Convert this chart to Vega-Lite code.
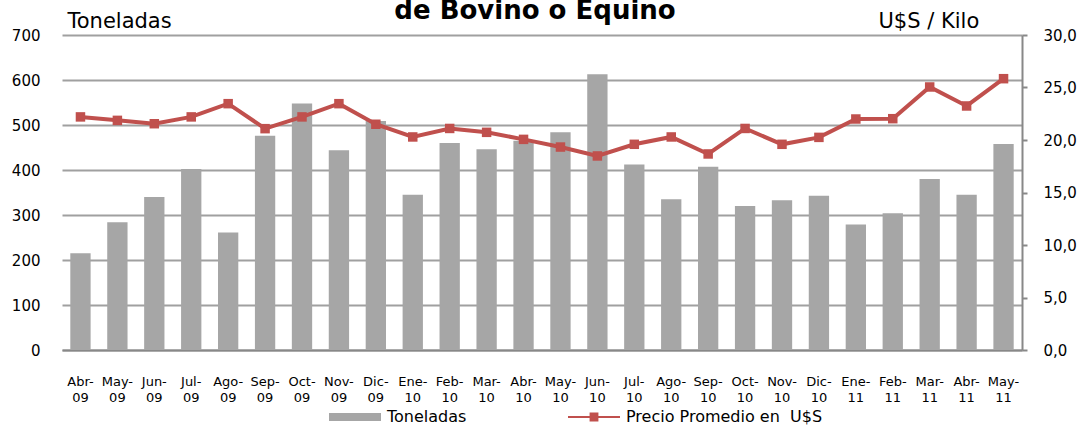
{
  "$schema": "https://vega.github.io/schema/vega-lite/v6.json",
  "width": 960,
  "height": 315,
  "autosize": {"type": "none"},
  "padding": {"left": 62, "top": 35, "right": 63, "bottom": 80},
  "background": "white",
  "title": {"text": "de Bovino o Equino", "font": "DejaVu Sans", "fontSize": 26, "fontWeight": "bold", "color": "#000000", "anchor": "middle", "frame": "group", "baseline": "alphabetic", "offset": 16, "dy": 51, "dx": -7},
  "config": {
    "view": {"stroke": null},
    "font": "DejaVu Sans",
    "axis": {"labelColor": "#000000", "titleColor": "#000000", "labelFont": "DejaVu Sans", "titleFont": "DejaVu Sans"},
    "legend": {"labelFont": "DejaVu Sans", "labelColor": "#000000", "labelLimit": 400}
  },
  "data": {
    "values": [
      {"mes": "Abr-09", "toneladas": 215, "precio": 22.2},
      {"mes": "May-09", "toneladas": 284, "precio": 21.87},
      {"mes": "Jun-09", "toneladas": 340, "precio": 21.55},
      {"mes": "Jul-09", "toneladas": 402, "precio": 22.2},
      {"mes": "Ago-09", "toneladas": 261, "precio": 23.46},
      {"mes": "Sep-09", "toneladas": 476, "precio": 21.08},
      {"mes": "Oct-09", "toneladas": 548, "precio": 22.2},
      {"mes": "Nov-09", "toneladas": 444, "precio": 23.46},
      {"mes": "Dic-09", "toneladas": 509, "precio": 21.5},
      {"mes": "Ene-10", "toneladas": 345, "precio": 20.29},
      {"mes": "Feb-10", "toneladas": 460, "precio": 21.1},
      {"mes": "Mar-10", "toneladas": 446, "precio": 20.73},
      {"mes": "Abr-10", "toneladas": 465, "precio": 20.06},
      {"mes": "May-10", "toneladas": 484, "precio": 19.33},
      {"mes": "Jun-10", "toneladas": 613, "precio": 18.48},
      {"mes": "Jul-10", "toneladas": 412, "precio": 19.59},
      {"mes": "Ago-10", "toneladas": 335, "precio": 20.29},
      {"mes": "Sep-10", "toneladas": 407, "precio": 18.67},
      {"mes": "Oct-10", "toneladas": 320, "precio": 21.1},
      {"mes": "Nov-10", "toneladas": 333, "precio": 19.59},
      {"mes": "Dic-10", "toneladas": 343, "precio": 20.25},
      {"mes": "Ene-11", "toneladas": 279, "precio": 22.0},
      {"mes": "Feb-11", "toneladas": 304, "precio": 22.03},
      {"mes": "Mar-11", "toneladas": 380, "precio": 25.05},
      {"mes": "Abr-11", "toneladas": 345, "precio": 23.24},
      {"mes": "May-11", "toneladas": 458, "precio": 25.84}
    ]
  },
  "layer": [
    {
      "mark": {"type": "bar"},
      "encoding": {
        "x": {
          "field": "mes", "type": "nominal", "sort": null,
          "scale": {"paddingInner": 0.45, "paddingOuter": 0.225},
          "axis": {
            "title": null, "labelAngle": 0,
            "labelExpr": "[split(datum.label, '-')[0] + '-', split(datum.label, '-')[1]]",
            "labelFontSize": 13, "labelLineHeight": 16, "ticks": false, "labelPadding": 25,
            "domainColor": "#888888", "domainWidth": 2, "grid": false
          }
        },
        "y": {
          "field": "toneladas", "type": "quantitative",
          "scale": {"domain": [0, 700], "nice": false},
          "axis": {
            "title": "Toneladas", "values": [0, 100, 200, 300, 400, 500, 600, 700],
            "grid": true, "gridColor": "#a0a0a0", "gridWidth": 2,
            "domain": false, "ticks": false, "labelPadding": 22, "labelFontSize": 15,
            "titleAngle": 0, "titleAlign": "left", "titleBaseline": "alphabetic",
            "titleX": 5, "titleY": -8, "titleFontSize": 21, "titleFontWeight": "normal"
          }
        },
        "color": {
          "datum": "Toneladas", "type": "nominal",
          "scale": {"range": ["#a6a6a6"]},
          "legend": {
            "orient": "none", "legendX": 267, "legendY": 356, "title": null, "padding": 0,
            "symbolType": "M-1,-0.154H1V0.154H-1Z", "symbolSize": 2704, "symbolStrokeWidth": 0,
            "labelFontSize": 16, "labelOffset": 6
          }
        }
      }
    },
    {
      "mark": {"type": "line", "strokeWidth": 4, "point": {"shape": "square", "size": 90, "filled": true}},
      "encoding": {
        "x": {"field": "mes", "type": "nominal", "sort": null},
        "y": {
          "field": "precio", "type": "quantitative",
          "scale": {"domain": [0, 30], "nice": false},
          "axis": {
            "orient": "right", "title": "U$S / Kilo", "values": [0, 5, 10, 15, 20, 25, 30],
            "format": ".1f", "labelExpr": "replace(datum.label, '.', ',')",
            "grid": false, "domainColor": "#888888", "domainWidth": 2,
            "ticks": true, "tickColor": "#888888", "tickWidth": 2, "tickSize": 5,
            "labelPadding": 16, "labelFontSize": 15, "labelAlign": "left",
            "titleAngle": 0, "titleAlign": "left", "titleBaseline": "alphabetic",
            "titleX": -144, "titleY": -8, "titleFontSize": 21, "titleFontWeight": "normal"
          }
        },
        "color": {
          "datum": "Precio Promedio en\u00a0 U$S", "type": "nominal",
          "scale": {"range": ["#c0504d"]},
          "legend": {
            "orient": "none", "legendX": 506, "legendY": 356, "title": null, "padding": 0,
            "symbolType": "M-1,-0.04H1V0.04H-1Z M-0.17,-0.17H0.17V0.17H-0.17Z", "symbolSize": 2704,
            "symbolFillColor": "#c0504d", "symbolStrokeColor": "#c0504d", "symbolStrokeWidth": 0,
            "labelFontSize": 16, "labelOffset": 6, "labelLimit": 400
          }
        }
      }
    }
  ],
  "resolve": {"scale": {"y": "independent", "color": "independent"}}
}
